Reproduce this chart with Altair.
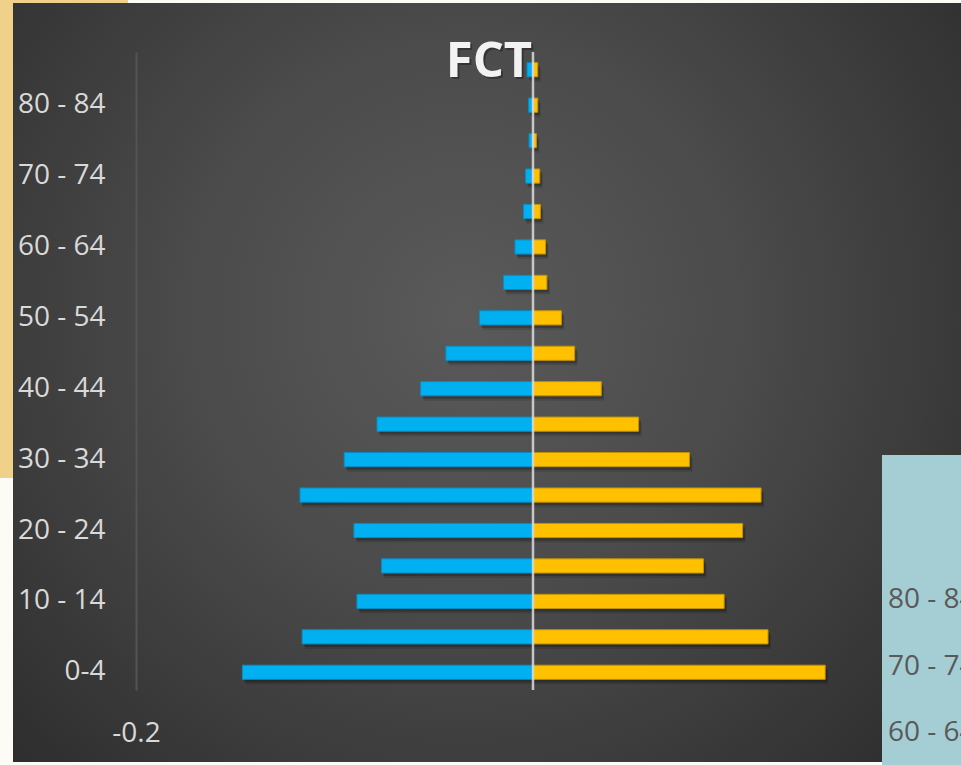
import altair as alt
import pandas as pd

# Age groups, bottom to top
age_groups = ["0-4", "5 - 9", "10 - 14", "15 - 19", "20 - 24", "25 - 29", "30 - 34",
              "35 - 39", "40 - 44", "45 - 49", "50 - 54", "55 - 59", "60 - 64",
              "65 - 69", "70 - 74", "75 - 79", "80 - 84", "85+"]
# Share of population per age group
male_share = [0.1464, 0.1163, 0.0887, 0.0763, 0.0902, 0.1174, 0.0951, 0.0786, 0.0566,
              0.0439, 0.0270, 0.0149, 0.0091, 0.0048, 0.0037, 0.0020, 0.0022, 0.0030]
female_share = [0.1472, 0.1184, 0.0963, 0.0859, 0.1056, 0.1149, 0.0788, 0.0532, 0.0344,
                0.0210, 0.0143, 0.0070, 0.0063, 0.0037, 0.0034, 0.0017, 0.0024, 0.0024]
labelled_ages = age_groups[::2]
x_tick_values = [-0.2]
side_panel_labels = ["80 - 84", "70 - 74", "60 - 64"]

FONT = "Open Sans"

rows = []
for age, m, f in zip(age_groups, male_share, female_share):
    rows.append({"age": age, "sex": "Male", "value": -m})
    rows.append({"age": age, "sex": "Female", "value": f})
pyramid = pd.DataFrame(rows)

x_enc = alt.X(
    "value:Q",
    scale=alt.Scale(domain=[-0.2, 0.2], nice=False),
    axis=alt.Axis(values=x_tick_values, format=".1f", labelFlush=False,
                  grid=False, domain=False, ticks=False, title=None,
                  labelFont=FONT, labelFontSize=28, labelColor="#d9d9d9", labelPadding=29,
                  labelExpr="replace(datum.label, '\u2212', '-')", zindex=1),
)
y_enc = alt.Y(
    "age:N",
    sort=list(reversed(age_groups)),
    scale=alt.Scale(paddingInner=0.6, paddingOuter=0.3),
    axis=alt.Axis(values=labelled_ages, title=None, ticks=False, grid=False,
                  domainColor="#545454", domainWidth=2,
                  labelFont=FONT, labelFontSize=28, labelColor="#d9d9d9",
                  labelPadding=31, zindex=1),
)

one = pd.DataFrame({"k": [0]})

# page decoration: neighbouring panels and the dark chart card
yellow_panel = alt.Chart(one).mark_rect(fill="#efd189").encode(
    x=alt.value(-136), x2=alt.value(-8), y=alt.value(-52), y2=alt.value(426))
card = alt.Chart(one).mark_rect(
    fill=alt.RadialGradient(
        gradient="radial", x1=0.47, y1=0.43, r1=0, x2=0.47, y2=0.43, r2=0.72,
        stops=[alt.GradientStop(offset=0, color="#5a5a5a"),
               alt.GradientStop(offset=0.4, color="#4b4b4b"),
               alt.GradientStop(offset=1, color="#292929")])
).encode(x=alt.value(-123), x2=alt.value(840), y=alt.value(-49), y2=alt.value(710))
blue_panel = alt.Chart(one).mark_rect(fill="#a4cdd4").encode(
    x=alt.value(746), x2=alt.value(840), y=alt.value(403), y2=alt.value(720))

side_labels = [
    alt.Chart(pd.DataFrame({"label": [lab]})).mark_text(
        font=FONT, fontSize=28, color="#595959", align="left", baseline="middle"
    ).encode(x=alt.value(752), y=alt.value(548 + i * 66.5), text="label:N")
    for i, lab in enumerate(side_panel_labels)
]

color_scale = alt.Scale(domain=["Male", "Female"], range=["#00b0f0", "#ffc000"])
stroke_scale = alt.Scale(domain=["Male", "Female"], range=["#0a8cc2", "#c29300"])

shadow_far = alt.Chart(pyramid).mark_bar(color="black", opacity=0.12, xOffset=3, yOffset=5).encode(
    x=x_enc, y=y_enc)
shadow_near = alt.Chart(pyramid).mark_bar(color="black", opacity=0.22, xOffset=2, yOffset=3).encode(
    x=x_enc, y=y_enc)
bars = alt.Chart(pyramid).mark_bar(strokeWidth=1).encode(
    x=x_enc, y=y_enc,
    color=alt.Color("sex:N", scale=color_scale, legend=None),
    stroke=alt.Stroke("sex:N", scale=stroke_scale, legend=None),
)
center_line = alt.Chart(one).mark_rule(color="#dcdcdc", strokeWidth=2.5, opacity=0.85).encode(
    x=alt.datum(0))

title_df = pd.DataFrame({"title": ["FCT"]})
title_shadow = alt.Chart(title_df).mark_text(
    font=FONT, fontWeight="bold", fontSize=49, color="black", opacity=0.3,
    align="center", baseline="alphabetic"
).encode(x=alt.value(355), y=alt.value(27), text="title:N")
title = alt.Chart(title_df).mark_text(
    font=FONT, fontWeight="bold", fontSize=49, color="#f2f2f2",
    align="center", baseline="alphabetic"
).encode(x=alt.value(353), y=alt.value(25), text="title:N")

chart = alt.layer(
    yellow_panel, card, blue_panel, *side_labels,
    shadow_far, shadow_near, bars, center_line, title_shadow, title
).properties(
    width=794, height=638,
    padding={"left": 136, "top": 52, "right": 31, "bottom": 75},
    autosize=alt.AutoSizeParams(type="none"),
    background="#fcfbf6",
).configure_view(stroke=None)

chart.save("out.html", embed_options={"renderer": "svg", "actions": False})
